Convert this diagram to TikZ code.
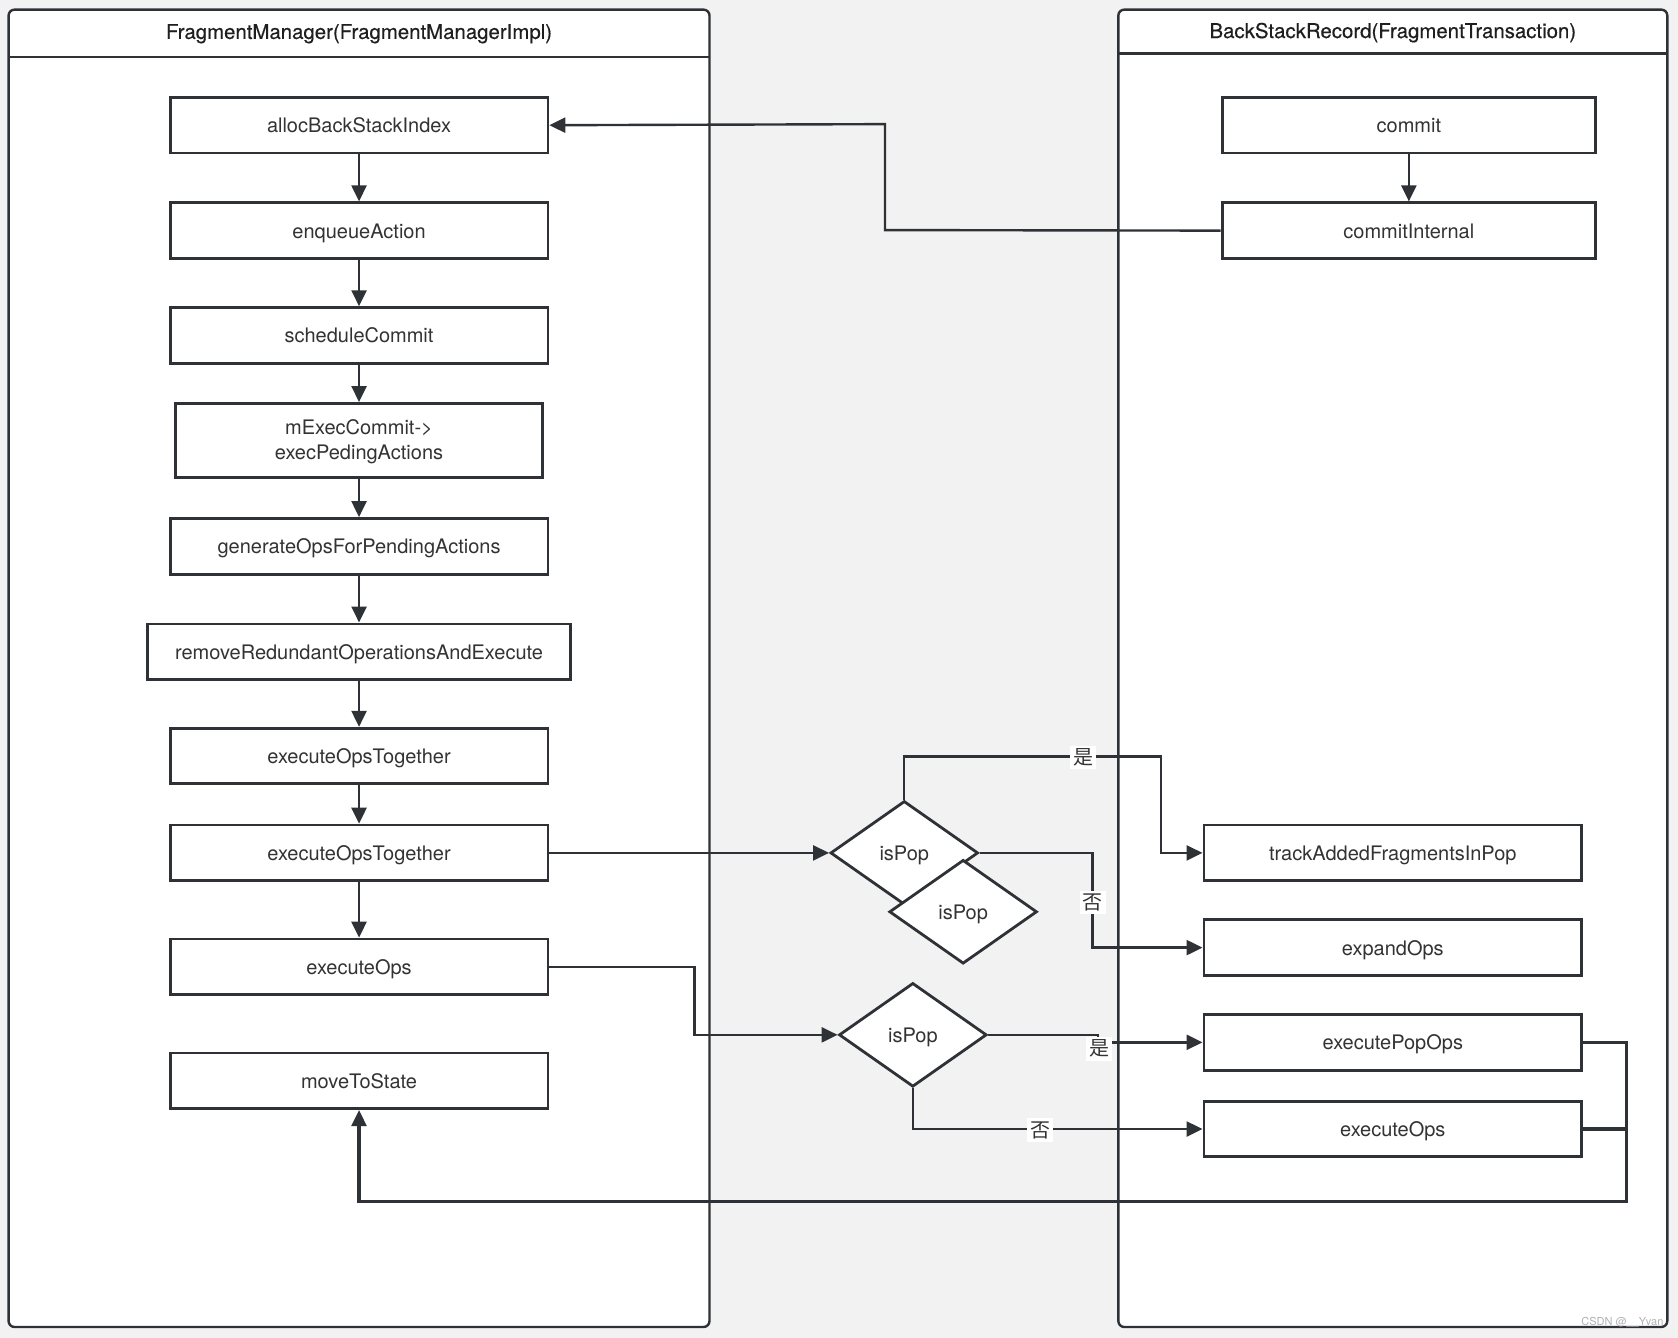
\documentclass[tikz,border=0pt]{standalone}
\usepackage{fontspec}
\setmainfont{TeX Gyre Heros}
\newfontfamily\cjk{Noto Sans CJK SC}
\newfontfamily\ttlfont[FakeBold=0.4]{TeX Gyre Heros}
\usetikzlibrary{arrows.meta,shapes.geometric}
\definecolor{bgc}{HTML}{F2F2F2}
\definecolor{lc}{HTML}{2E3236}
\definecolor{tc}{HTML}{333333}
\newcommand\pxs{0.5352pt}
\begin{document}
\begin{tikzpicture}[x=0.5352pt,y=-0.5352pt,
  boxbase/.style={draw=lc, fill=white, line width=1.4pt, minimum width=353*\pxs, minimum height=52*\pxs,
    inner sep=0pt, font=\fontsize{10}{12.5}\selectfont, text=tc, align=center},
  box/.style={boxbase, text height=9.5pt, text depth=2pt},
  dia/.style={diamond, draw=lc, fill=white, line width=1.4pt, minimum width=138*\pxs, minimum height=97*\pxs,
    inner sep=0pt, font=\fontsize{10}{12}\selectfont, text=tc, text height=9.5pt, text depth=2pt},
  panel/.style={draw=lc, line width=1.2pt},
  ttl/.style={font=\ttlfont\fontsize{10.2}{12}\selectfont, text=black!88},
  arr/.style={draw=lc, line width=1.2pt, -{Triangle[length=8pt,width=7.5pt]}},
  ln/.style={draw=lc, line width=1.2pt},
  lab/.style={fill=white, inner sep=1.5pt, font=\cjk\fontsize{10}{12}\selectfont, text=tc}]
\useasboundingbox (0,0) rectangle (1568,1250);
\fill[bgc] (0,0) rectangle (1568,1250);
% panels
\draw[panel, fill=white, rounded corners=3pt] (8,9) rectangle (663,1240);
\draw[panel] (8,53) -- (663,53);
\node[ttl] (t1) at (335.5,31.5) {FragmentManager(FragmentManagerImpl)};
\draw[panel, fill=white, rounded corners=3pt] (1045,9) rectangle (1558,1240);
\draw[panel] (1045,50) -- (1558,50);
\node[ttl] (t2) at (1301.5,30.5) {BackStackRecord(FragmentTransaction)};
% left column
\node[box] (a1) at (335.5,117) {allocBackStackIndex};
\node[box] (a2) at (335.5,215.5) {enqueueAction};
\node[box] (a3) at (335.5,313.5) {scheduleCommit};
\node[boxbase, minimum width=343*\pxs, minimum height=69*\pxs, text height=21.5pt, text depth=2.2pt] (a4) at (335.5,411.5) {mExecCommit->\\execPedingActions};
\node[box] (a5) at (335.5,510.5) {generateOpsForPendingActions};
\node[box, minimum width=395*\pxs] (a6) at (335.5,609) {removeRedundantOperationsAndExecute};
\node[box] (a7) at (335.5,706.5) {executeOpsTogether};
\node[box] (a8) at (335.5,797) {executeOpsTogether};
\node[box] (a9) at (335.5,903.5) {executeOps};
\node[box] (a10) at (335.5,1010) {moveToState};
% right column
\node[box, minimum width=349*\pxs] (b1) at (1316.5,117) {commit};
\node[box, minimum width=349*\pxs] (b2) at (1316.5,215.5) {commitInternal};
\node[box] (c1) at (1301.5,797) {trackAddedFragmentsInPop};
\node[box] (c2) at (1301.5,885.5) {expandOps};
\node[box] (c3) at (1301.5,974) {executePopOps};
\node[box] (c4) at (1301.5,1055) {executeOps};
% diamonds
\node[dia] (d1) at (845,797) {isPop};
\node[dia] (d2) at (900,852) {isPop};
\node[dia] (d3) at (853,967) {isPop};
% vertical chain
\draw[arr] (a1) -- (a2);
\draw[arr] (a2) -- (a3);
\draw[arr] (a3) -- (a4);
\draw[arr] (a4) -- (a5);
\draw[arr] (a5) -- (a6);
\draw[arr] (a6) -- (a7);
\draw[arr] (a7) -- (a8);
\draw[arr] (a8) -- (a9);
\draw[arr] (b1) -- (b2);
% commitInternal -> alloc
\draw[arr] (b2.west) -- (827,215) -- (827,116) -- (a1.east);
% executeOpsTogether -> isPop
\draw[arr] (a8.east) -- (d1.west);
\draw[arr] (d1.north) -- (845,707) -- (1085,707) -- (1085,797) -- (c1.west);
\draw[arr] (d1.east) -- (1021,797) -- (1021,885.5) -- (c2.west);
\node[lab] (l1) at (1012,708) {是};
\node[lab] (l2) at (1021,843) {否};
% executeOps -> isPop
\draw[arr] (a9.east) -- (649,903.5) -- (649,967) -- (d3.west);
\draw[arr] (d3.east) -- (1026,967) -- (1026,974) -- (c3.west);
\draw[arr] (d3.south) -- (853,1055) -- (c4.west);
\node[lab] (l3) at (1027,980) {是};
\node[lab] (l4) at (972,1056) {否};
% return to moveToState
\draw[ln, line width=1.7pt] (c4.east) -- (1520,1055) -- (1520,1123) -- (335.5,1123) -- (335.5,1050);
\draw[arr] (c3.east) -- (1520,974) -- (1520,1123) -- (335.5,1123) -- (a10.south);
% watermark
\node[font=\fontsize{5.5}{6}\selectfont, text=black!30] (wm) at (1516,1236) {CSDN @\_\_Yvan};
\end{tikzpicture}
\end{document}
